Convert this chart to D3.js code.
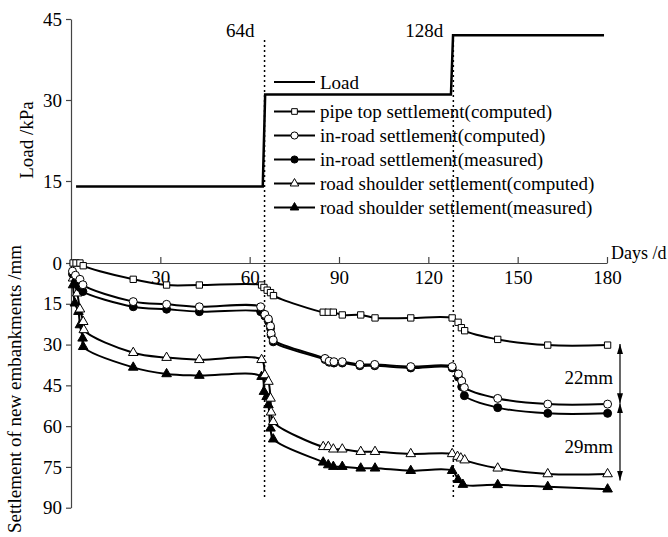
<!DOCTYPE html>
<html>
<head>
<meta charset="utf-8">
<script src="https://cdn.jsdelivr.net/npm/d3@7"></script>
<style>
  body { margin: 0; background: #fff; }
  svg text { font-family: "Liberation Serif", "Times New Roman", serif; font-size: 19px; fill: #000; }
</style>
</head>
<body>
<div id="chart"></div>
<script>
// Load steps
const loadDays = [1.7, 64.4, 65.2, 127.6, 128.3, 179]
const loadValues = [14, 14, 31, 31, 42, 42]

// Settlement series (days, mm)
const pipeTopDays = [0.7, 1.7, 3, 4.1, 20.9, 32.1, 43.1, 64, 64.8, 65.9, 67, 68, 84.7, 86.4, 88.1, 91.1, 97.3, 102.1, 114.1, 128, 130, 131.1, 132.2, 143.3, 160.1, 180.2]
const pipeTopComputed = [0, 0, 0, 1, 6, 8.1, 8.1, 8.1, 9, 10, 10.9, 12, 18.1, 18.1, 18.1, 19.1, 19.1, 20.2, 20.2, 20.2, 21.8, 23.8, 24.9, 28.1, 30.2, 30.2]

const inRoadDays = [0.5, 1.5, 3, 4, 20.9, 32.1, 43.1, 63.7, 65.1, 66.3, 67, 67.2, 67.9, 85.3, 86.7, 88.3, 91.1, 97, 102, 114.1, 128, 130.1, 131.2, 132.1, 143.3, 160.1, 180.2]
const inRoadComputed = [3, 4.5, 6, 8, 14.2, 15.2, 16.1, 16.1, 18.9, 20.6, 23.2, 25.9, 28.3, 35.1, 36.1, 36.3, 36.3, 37.3, 37.3, 38.1, 38.1, 40.8, 43.4, 45.8, 49.8, 51.9, 51.9]
const inRoadMeasured = [4, 7, 9, 10.5, 16.1, 17, 17.9, 17.9, 19.5, 21.5, 24, 26.5, 29, 35.5, 36.5, 36.8, 36.8, 37.8, 37.8, 38.6, 38.6, 42, 45.5, 48.8, 53.2, 55.3, 55.3]

const shoulderComputedDays = [0.7, 2.1, 3, 4.1, 4.3, 20.9, 32.1, 43.1, 64, 65.1, 66.3, 67, 67.2, 67.9, 84.7, 86.4, 88.1, 91.1, 97.3, 102.1, 114.1, 128, 129.8, 130.9, 132.2, 143.3, 160.1, 180.2]
const shoulderComputed = [5.6, 11.1, 17, 21.6, 24.6, 33, 34.8, 35.6, 35.6, 41.2, 43.6, 49.8, 54.9, 58.4, 67.6, 67.6, 68.5, 68.5, 69.4, 69.4, 70.2, 70.2, 71.2, 71.8, 72.5, 75.5, 77.6, 77.6]

const shoulderMeasuredDays = [0.7, 1.3, 2.5, 3, 3.9, 4.1, 20.9, 32.1, 43.1, 64, 64.8, 65.7, 66.3, 67, 67.9, 84.7, 86.4, 88.1, 91.1, 97.3, 102.1, 114.1, 128, 130, 131.6, 143.3, 160.1, 180.2]
const shoulderMeasured = [8.1, 14.8, 17.9, 22.8, 27.7, 30.8, 38.4, 40.8, 41.4, 41.8, 47.3, 49.2, 52.2, 60.8, 64.8, 73.3, 74.3, 74.9, 74.9, 75.5, 75.5, 76.4, 76.4, 79.7, 81.5, 81.6, 82.3, 83.2]

// Stage markers and gaps
const stageDays = [65, 128.4]
const stageLabels = ['64d', '128d']
const gapFrom = [29.8, 51.6]
const gapTo = [51.6, 80]
const gapLabels = ['22mm', '29mm']

// Ticks
const loadTicks = [15, 30, 45]
const settlementTicks = [0, 15, 30, 45, 60, 75, 90]
const dayTicks = [30, 60, 90, 120, 150, 180]

;(({ width, height, left, right, loadTop, zeroY, bottomY }) => {
  const svg = d3.select('#chart')
    .append('svg')
    .attr('width', width)
    .attr('height', height)

  // Scales
  const x = d3.scaleLinear().domain([0, 180]).range([left, right])
  const yLoad = d3.scaleLinear().domain([0, 45]).range([zeroY - 1, loadTop])
  const ySet = d3.scaleLinear().domain([0, 90]).range([zeroY, bottomY])

  // Arrow head
  svg.append('defs')
    .append('marker')
    .attr('id', 'arrow')
    .attr('viewBox', '0 0 10 6')
    .attr('refX', 10)
    .attr('refY', 3)
    .attr('markerWidth', 10)
    .attr('markerHeight', 6)
    .attr('markerUnits', 'userSpaceOnUse')
    .attr('orient', 'auto-start-reverse')
    .append('path')
    .attr('d', 'M0,0L10,3L0,6Z')
    .attr('fill', '#000')

  // Axes
  svg.append('g')
    .attr('color', '#444')
    .attr('transform', `translate(${left},0)`)
    .call(d3.axisLeft(yLoad).tickValues(loadTicks).tickSize(5).tickSizeOuter(0).tickPadding(4))
  svg.append('g')
    .attr('color', '#444')
    .attr('transform', `translate(${left},0)`)
    .call(d3.axisLeft(ySet).tickValues(settlementTicks).tickSize(5).tickSizeOuter(0).tickPadding(4))
  svg.append('g')
    .attr('color', '#444')
    .attr('transform', `translate(0,${zeroY})`)
    .call(d3.axisBottom(x).tickValues(dayTicks).tickSizeInner(-6).tickSizeOuter(0).tickPadding(8))
  svg.selectAll('.tick line').attr('stroke-width', 1.2)
  svg.selectAll('.domain').attr('stroke-width', 1.2)

  // Axis titles
  svg.append('text')
    .attr('transform', `translate(33,140) rotate(-90)`)
    .attr('text-anchor', 'middle')
    .text('Load /kPa')
  svg.append('text')
    .attr('transform', `translate(21,389) rotate(-90)`)
    .attr('text-anchor', 'middle')
    .text('Settlement of new embankments /mm')
  svg.append('text')
    .attr('x', right + 4)
    .attr('y', zeroY - 4)
    .style('font-size', '18px')
    .text('Days /d')

  // Stage lines
  stageDays.forEach((d, i) => {
    svg.append('line')
      .attr('x1', x(d)).attr('x2', x(d))
      .attr('y1', 40).attr('y2', 498)
      .attr('stroke', '#000')
      .attr('stroke-width', 1.5)
      .attr('stroke-dasharray', '2,3')
    svg.append('text')
      .attr('x', x(d) - 10)
      .attr('y', 37)
      .attr('text-anchor', 'end')
      .text(stageLabels[i])
  })

  // Load line
  svg.append('path')
    .datum(loadDays.map((d, i) => [d, loadValues[i]]))
    .attr('fill', 'none')
    .attr('stroke', '#000')
    .attr('stroke-width', 2.5)
    .attr('d', d3.line().x(d => x(d[0])).y(d => yLoad(d[1])))

  // Series
  const series = [
    { name: 'road shoulder settlement(measured)', days: shoulderMeasuredDays, values: shoulderMeasured, symbol: d3.symbolTriangle, size: 40, fill: '#000', row: 4 },
    { name: 'road shoulder settlement(computed)', days: shoulderComputedDays, values: shoulderComputed, symbol: d3.symbolTriangle, size: 40, fill: '#fff', row: 3 },
    { name: 'in-road settlement(measured)', days: inRoadDays, values: inRoadMeasured, symbol: d3.symbolCircle, size: 50, fill: '#000', row: 2 },
    { name: 'in-road settlement(computed)', days: inRoadDays, values: inRoadComputed, symbol: d3.symbolCircle, size: 50, fill: '#fff', row: 1 },
    { name: 'pipe top settlement(computed)', days: pipeTopDays, values: pipeTopComputed, symbol: d3.symbolSquare, size: 40, fill: '#fff', row: 0 }
  ]
  const line = d3.line()
    .x(d => x(d[0]))
    .y(d => ySet(d[1]))
    .curve(d3.curveCatmullRom.alpha(0.5))

  series.forEach(s => {
    const pts = s.days.map((d, i) => [d, s.values[i]])
    const g = svg.append('g')
    g.append('path')
      .datum(pts)
      .attr('fill', 'none')
      .attr('stroke', '#000')
      .attr('stroke-width', 2)
      .attr('d', line)
    g.selectAll('path.pt')
      .data(pts)
      .enter()
      .append('path')
      .attr('class', 'pt')
      .attr('d', d3.symbol(s.symbol, s.size))
      .attr('transform', d => `translate(${x(d[0])},${ySet(d[1])})`)
      .attr('fill', s.fill)
      .attr('stroke', '#000')
      .attr('stroke-width', 1)
  })

  // Legend
  const legend = svg.append('g').attr('transform', 'translate(274,0)')
  legend.append('line')
    .attr('x1', 0).attr('x2', 41)
    .attr('y1', 82).attr('y2', 82)
    .attr('stroke', '#000').attr('stroke-width', 2)
  legend.append('text')
    .attr('x', 46).attr('y', 82).attr('dy', '0.35em')
    .text('Load')
  series.forEach(s => {
    const yRow = 111.5 + s.row * 24
    legend.append('line')
      .attr('x1', 0).attr('x2', 41)
      .attr('y1', yRow).attr('y2', yRow)
      .attr('stroke', '#000').attr('stroke-width', 2)
    legend.append('path')
      .attr('d', d3.symbol(s.symbol, s.size * 0.8))
      .attr('transform', `translate(20.5,${yRow})`)
      .attr('fill', s.fill)
      .attr('stroke', '#000')
    legend.append('text')
      .attr('x', 46).attr('y', yRow).attr('dy', '0.35em')
      .text(s.name)
  })

  // Gap annotations
  gapLabels.forEach((label, i) => {
    svg.append('line')
      .attr('x1', 620).attr('x2', 620)
      .attr('y1', ySet(gapFrom[i])).attr('y2', ySet(gapTo[i]))
      .attr('stroke', '#000')
      .attr('stroke-width', 1.2)
      .attr('marker-start', 'url(#arrow)')
      .attr('marker-end', 'url(#arrow)')
    svg.append('text')
      .attr('x', 613)
      .attr('y', ySet((gapFrom[i] + gapTo[i]) / 2) + 4)
      .attr('dy', '0.35em')
      .attr('text-anchor', 'end')
      .text(label)
  })
})({
  width: 668,
  height: 537,
  left: 71,
  right: 607,
  loadTop: 19,
  zeroY: 263,
  bottomY: 507.7
})
</script>
</body>
</html>
